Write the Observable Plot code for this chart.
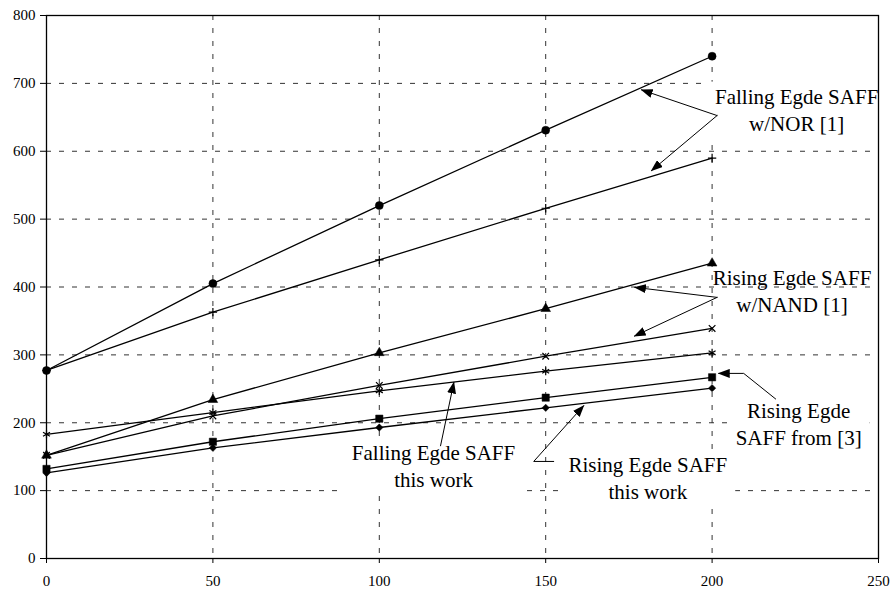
<!DOCTYPE html>
<html><head><meta charset="utf-8">
<script src="https://cdn.jsdelivr.net/npm/d3@7"></script>
<script src="https://cdn.jsdelivr.net/npm/@observablehq/plot@0.6"></script>
<style>body{margin:0;background:#fff} svg{display:block}</style>
</head><body><div id="chart"></div>
<script>
// ---- data ----
const xValues = [0, 50, 100, 150, 200];
const fallingNor = [277, 405, 520, 631, 740];      // circles
const fallingNorB = [277, 363, 440, 516, 590];     // plus
const risingNand = [152, 234, 303, 368, 435];      // triangles
const risingNandB = [152, 210, 255, 298, 339];     // times
const fallingThisWork = [183, 215, 247, 276, 303]; // asterisk
const risingFrom3 = [132, 172, 206, 237, 267];     // squares
const risingThisWork = [126, 163, 193, 222, 251];  // diamonds
const xTicks = [0, 50, 100, 150, 200, 250];
const yTicks = [0, 100, 200, 300, 400, 500, 600, 700, 800];

// annotations (data coordinates)
const labelText = ["Falling Egde SAFF\nw/NOR [1]", "Rising Egde SAFF\nw/NAND [1]", "Rising Egde\nSAFF from [3]", "Falling Egde SAFF\nthis work", "Rising Egde SAFF\nthis work"];
const labelX = [225.4, 224, 226, 116.3, 180.7];
const labelY = [663, 395.3, 200.2, 137.4, 120.1];
const labelBoxed = [true, false, true, true, true];
const arrowPaths = [
  [[201.5, 652.6], [178.8, 690.4]],
  [[201.5, 652.6], [181.8, 571.5]],
  [[201.5, 384.7], [176.8, 399.5]],
  [[201.5, 384.7], [176.7, 327.8]],
  [[219.1, 235], [209.5, 272.7], [202, 272.7]],
  [[118.4, 166.1], [122.4, 259.4]],
  [[152.4, 143], [146.4, 143], [161.4, 225.1]]
];

// ---- build tables ----
const seriesDefs = [
  {name: "fallingNor", values: fallingNor, symbol: "circle", r: 4, filled: true},
  {name: "fallingNorB", values: fallingNorB, symbol: "plus", r: 2.8, filled: false},
  {name: "risingNand", values: risingNand, symbol: "triangle", r: 3.6, filled: true},
  {name: "risingNandB", values: risingNandB, symbol: "times", r: 3.1, filled: false},
  {name: "fallingThisWork", values: fallingThisWork, symbol: "asterisk", r: 3.8, filled: false},
  {name: "risingFrom3", values: risingFrom3, symbol: "square", r: 4.1, filled: true},
  {name: "risingThisWork", values: risingThisWork, symbol: "diamond2", r: 3.3, filled: true}
];
const rows = seriesDefs.flatMap(s => s.values.map((v, i) => ({series: s.name, x: xValues[i], y: v})));
const labels = labelText.map((t, i) => ({text: t, x: labelX[i], y: labelY[i], boxed: labelBoxed[i]}));
const arrowRows = arrowPaths.flatMap((p, id) => p.map(([x, y]) => ({id, x, y})));

const dotMarks = seriesDefs.map(s => Plot.dot(rows.filter(d => d.series === s.name), {
  x: "x", y: "y", symbol: () => s.symbol, r: s.r,
  fill: s.filled ? "black" : "none", stroke: "black", strokeWidth: s.filled ? 0.5 : 1.2
}));

const textOpts = {x: "x", y: "y", text: "text", fontSize: 21, lineHeight: 1.28, lineAnchor: "middle",
  textAnchor: "middle", fill: "black"};

const svg = Plot.plot({
  width: 894, height: 596,
  marginLeft: 46, marginRight: 16, marginTop: 15, marginBottom: 38,
  style: {fontFamily: "'Liberation Serif', 'Times New Roman', serif", fontSize: "15px", color: "black", background: "white"},
  x: {domain: [0, 250], ticks: xTicks, tickSize: 5, tickPadding: 12, label: null, tickFormat: d => String(d)},
  y: {domain: [0, 800], ticks: yTicks, tickSize: 6, tickPadding: 5, label: null, tickFormat: d => String(d)},
  marks: [
    Plot.ruleY(yTicks.filter(d => d > 0 && d < 800), {stroke: "#333", strokeWidth: 1, strokeDasharray: "5,8"}),
    Plot.ruleX(xTicks.filter(d => d > 0 && d < 250), {stroke: "#333", strokeWidth: 1, strokeDasharray: "5,8"}),
    Plot.text(labels.filter(d => d.boxed), {...textOpts, ariaDescription: "boxed"}),
    Plot.text(labels.filter(d => !d.boxed), {...textOpts}),
    Plot.line(rows, {x: "x", y: "y", z: "series", stroke: "black", strokeWidth: 1.3}),
    ...dotMarks,
    Plot.line(arrowRows, {x: "x", y: "y", z: "id", stroke: "black", strokeWidth: 1, ariaDescription: "arrows"}),
    Plot.frame({stroke: "black", strokeWidth: 1.3})
  ]
});
document.getElementById("chart").append(svg);

// tick label font size
svg.querySelectorAll('g[aria-label*="axis"]').forEach(g => {
  g.setAttribute("font-size", "15");
  g.style.fontSize = "15px";
  g.querySelectorAll("text").forEach(t => { t.setAttribute("font-size", "15"); t.style.fontSize = "15px"; });
});

// white boxes behind boxed labels, filled arrowheads
const ns = "http://www.w3.org/2000/svg";
svg.querySelectorAll('g[aria-description="boxed"] text').forEach(t => {
  const b = t.getBBox();
  const r = document.createElementNS(ns, "rect");
  r.setAttribute("x", b.x - 8); r.setAttribute("y", b.y - 3);
  r.setAttribute("width", b.width + 16); r.setAttribute("height", b.height + 6);
  r.setAttribute("fill", "white");
  if (t.getAttribute("transform")) r.setAttribute("transform", t.getAttribute("transform"));
  t.parentNode.insertBefore(r, t);
});
const defs = document.createElementNS(ns, "defs");
defs.innerHTML = '<marker id="fillArrow" viewBox="0 0 12 9" refX="11" refY="4.5" markerWidth="12" markerHeight="9" markerUnits="userSpaceOnUse" orient="auto"><path d="M0,0L12,4.5L0,9Z" fill="black"/></marker>';
svg.prepend(defs);
svg.querySelectorAll('g[aria-description="arrows"] path').forEach(p => p.setAttribute("marker-end", "url(#fillArrow)"));
</script>
</body></html>
